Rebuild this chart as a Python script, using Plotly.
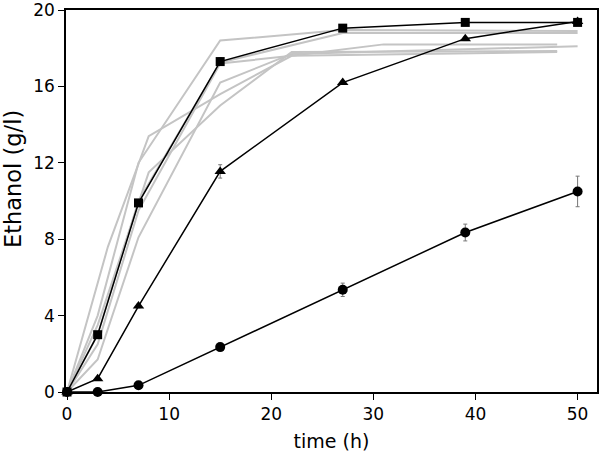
import plotly.graph_objects as go

# Highlighted series
t_main = [0, 3, 7, 15, 27, 39, 50]
sq_y = [0, 3.0, 9.9, 17.3, 19.05, 19.35, 19.35]
sq_err = [0, 0.1, 0.15, 0.2, 0.1, 0.1, 0.1]
tri_y = [0, 0.7, 4.5, 11.55, 16.2, 18.5, 19.4]
tri_err = [0, 0.05, 0.1, 0.35, 0.1, 0.1, 0.1]
cir_y = [0, 0, 0.35, 2.35, 5.35, 8.35, 10.5]
cir_err = [0, 0, 0.05, 0.1, 0.35, 0.44, 0.8]

# Gray background series
g1_t = [0, 3, 7, 15, 27, 50]
g1_y = [0, 4.0, 12.0, 18.4, 18.95, 18.9]
g2_t = [0, 4, 8, 15, 22, 31, 48]
g2_y = [0, 7.6, 13.4, 15.6, 17.6, 18.2, 18.2]
g3_t = [0, 3, 7, 15, 22, 50]
g3_y = [0, 1.7, 8.1, 16.2, 17.7, 18.1]
g4_t = [0, 3, 8, 15, 22, 48]
g4_y = [0, 3.5, 11.5, 15.0, 17.8, 17.85]
g5_t = [0, 3, 7, 15, 27, 50]
g5_y = [0, 3.0, 10.0, 17.25, 18.8, 18.8]
g6_t = [0, 3, 7, 15, 22, 48]
g6_y = [0, 2.5, 9.5, 17.2, 17.6, 17.8]

x_ticks = [0, 10, 20, 30, 40, 50]
y_ticks = [0, 4, 8, 12, 16, 20]

FONT = "DejaVu Sans"

fig = go.Figure()
for gt, gy in [(g1_t, g1_y), (g2_t, g2_y), (g3_t, g3_y), (g4_t, g4_y), (g5_t, g5_y), (g6_t, g6_y)]:
    fig.add_trace(go.Scatter(x=gt, y=gy, mode="lines",
                             line=dict(color="#c4c4c4", width=2), showlegend=False, cliponaxis=False))

def add_series(y, err, symbol, size):
    fig.add_trace(go.Scatter(
        x=t_main, y=y, mode="lines+markers",
        line=dict(color="black", width=1.5),
        marker=dict(symbol=symbol, size=size, color="black"),
        error_y=dict(type="data", array=err, visible=True, color="#777777", thickness=1, width=2),
        showlegend=False, cliponaxis=False))

add_series(cir_y, cir_err, "circle", 10)
add_series(tri_y, tri_err, "triangle-up", 10)
add_series(sq_y, sq_err, "square", 9)

axis_common = dict(showline=True, linecolor="black", linewidth=1.5, mirror=True,
                   ticks="outside", ticklen=6, tickwidth=1.2, tickcolor="black",
                   showgrid=False, zeroline=False, automargin=False,
                   ticklabeloverflow="allow",
                   tickfont=dict(family=FONT, size=17, color="black"))

fig.update_xaxes(range=[-0.1, 51.9], tickvals=x_ticks,
                 title=dict(text="time (h)", font=dict(family=FONT, size=19, color="black"), standoff=12),
                 **axis_common)
fig.update_yaxes(range=[0, 20], tickvals=y_ticks, **axis_common)

fig.add_annotation(text="Ethanol (g/l)", textangle=-90, xref="paper", yref="paper",
                   x=0, y=0.5576, xshift=-53, xanchor="center", yanchor="middle",
                   showarrow=False, font=dict(family=FONT, size=22.5, color="black"))

fig.update_layout(width=600, height=454, margin=dict(l=66, r=3, t=10, b=62),
                  plot_bgcolor="white", paper_bgcolor="white")
fig.write_html("out.html", config={"displayModeBar": False},
               post_script="document.body.style.margin='0';")
